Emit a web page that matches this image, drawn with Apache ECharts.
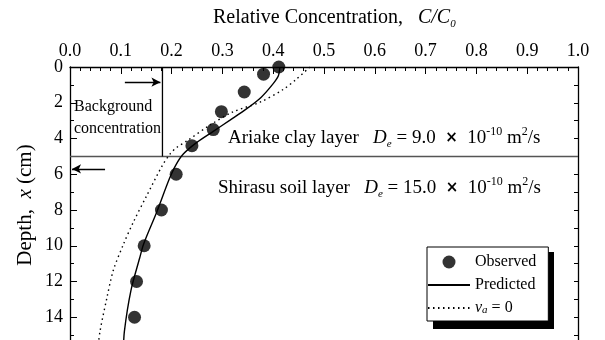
<!DOCTYPE html>
<html>
<head>
<meta charset="utf-8">
<script src="https://cdn.jsdelivr.net/npm/echarts@6/dist/echarts.min.js"></script>
<style>
  html, body { margin: 0; padding: 0; background: #fff; overflow: hidden; }
  /* taller than the window: the plot runs off the bottom edge like the original figure */
  #root { width: 605px; height: 362px; }
</style>
</head>
<body>
<div id="root"></div>
<script>
// observed C/C0 against depth (cm)
const observed = [
  [0.411, 0], [0.381, 0.4], [0.343, 1.4], [0.298, 2.5], [0.282, 3.5], [0.240, 4.4],
  [0.209, 6], [0.180, 8], [0.146, 10], [0.131, 12], [0.127, 14]
];
// predicted curve
const predicted = [
  [0.413, 0], [0.410, 0.5], [0.398, 1.0], [0.376, 1.7], [0.348, 2.33], [0.315, 2.97],
  [0.282, 3.6], [0.249, 4.23], [0.223, 4.87], [0.208, 5.5], [0.195, 6.3], [0.171, 8.1],
  [0.145, 9.9], [0.137, 10.7], [0.120, 12.5], [0.107, 14.8], [0.105, 16]
];
// va = 0 curve
const noAdvection = [
  [0.472, 0], [0.445, 0.7], [0.420, 1.25], [0.374, 1.97], [0.321, 2.51], [0.276, 3.24],
  [0.230, 4.14], [0.210, 4.5], [0.197, 4.87], [0.182, 5.5], [0.151, 7.2], [0.125, 8.66],
  [0.105, 9.93], [0.085, 11.4], [0.072, 13.0], [0.059, 14.8], [0.054, 16]
];
const bgConc = 0.182;      // background concentration
const layerDepth = 5;      // clay / soil boundary
const arrowTop = [[0.108, 0.85], [0.178, 0.85]];
const arrowLow = [[0.069, 5.7], [0.004, 5.7]];

const serif = 'Liberation Serif';
const root = document.getElementById('root');
const myChart = echarts.init(root);

const rich = {
  n: { fontFamily: serif, fontSize: 19, color: '#000', lineHeight: 24, verticalAlign: 'middle' },
  i: { fontFamily: serif, fontSize: 19, fontStyle: 'italic', color: '#000', lineHeight: 24, verticalAlign: 'middle' },
  sub: { fontFamily: serif, fontSize: 11, fontStyle: 'italic', color: '#000', lineHeight: 14, verticalAlign: 'bottom' },
  sup: { fontFamily: serif, fontSize: 12, color: '#000', lineHeight: 14, verticalAlign: 'top' },
  x: { fontFamily: 'DejaVu Sans', fontSize: 15, fontWeight: 'bold', color: '#000', lineHeight: 24, verticalAlign: 'middle' },
  t: { fontFamily: serif, fontSize: 20, color: '#000', lineHeight: 24, verticalAlign: 'middle' },
  ti: { fontFamily: serif, fontSize: 20, fontStyle: 'italic', color: '#000', lineHeight: 24, verticalAlign: 'middle' },
  yn: { fontFamily: serif, fontSize: 21, color: '#000', lineHeight: 24, verticalAlign: 'middle' },
  yi: { fontFamily: serif, fontSize: 21, fontStyle: 'italic', color: '#000', lineHeight: 24, verticalAlign: 'middle' }
};

const option = {
  animation: false,
  backgroundColor: '#fff',
  grid: { left: 70, top: 67, width: 508, height: 295 },
  xAxis: {
    type: 'value', position: 'top', min: 0, max: 1, interval: 0.1,
    axisLine: { show: true, lineStyle: { color: '#000', width: 1.3 } },
    axisTick: { inside: true, length: 7, lineStyle: { color: '#000' } },
    minorTick: { show: true, splitNumber: 5, length: 4, lineStyle: { color: '#000' } },
    splitLine: { show: false },
    axisLabel: { formatter: v => v.toFixed(1), fontFamily: serif, fontSize: 18, color: '#000', margin: 7 }
  },
  yAxis: [{
    type: 'value', inverse: true, min: 0, max: 16, interval: 2,
    axisLine: { show: true, lineStyle: { color: '#000', width: 1.3 } },
    axisTick: { inside: true, length: 7, lineStyle: { color: '#000' } },
    minorTick: { show: true, splitNumber: 2, length: 4, lineStyle: { color: '#000' } },
    splitLine: { show: false },
    axisLabel: { fontFamily: serif, fontSize: 18, color: '#000', margin: 7 }
  }, {
    type: 'value', inverse: true, min: 0, max: 16, interval: 1, position: 'right',
    axisLine: { show: true, lineStyle: { color: '#000', width: 1.3 } },
    axisTick: { inside: true, length: 4, lineStyle: { color: '#000' } },
    axisLabel: { show: false },
    splitLine: { show: false }
  }],
  legend: {
    data: [
      { name: 'Observed' },
      { name: 'Predicted', itemStyle: { opacity: 0 } },
      { name: 'va', itemStyle: { opacity: 0 } }
    ],
    orient: 'vertical', left: 427, top: 247,
    padding: [7, 12, 5, 0], itemWidth: 42, itemHeight: 13, itemGap: 7,
    backgroundColor: '#fff', borderColor: '#000', borderWidth: 1,
    formatter: name => name === 'va' ? '{i|v}{s|a}{n| = 0}' : name,
    textStyle: {
      fontFamily: serif, fontSize: 16, color: '#000',
      rich: {
        n: { fontFamily: serif, fontSize: 16, color: '#000', lineHeight: 16, verticalAlign: 'middle' },
        i: { fontFamily: serif, fontSize: 16, fontStyle: 'italic', color: '#000', lineHeight: 16, verticalAlign: 'middle' },
        s: { fontFamily: serif, fontSize: 11, fontStyle: 'italic', color: '#000', lineHeight: 10, verticalAlign: 'bottom' }
      }
    }
  },
  graphic: [
    {
      // drop shadow behind the legend box
      type: 'rect', z: 3, shape: { x: 433, y: 252, width: 121, height: 77 },
      style: { fill: '#000' }, silent: true
    },
    {
      type: 'text', left: 213, top: 8,
      style: { text: '{t|Relative Concentration,   }{ti|C/C}{sub|0}', rich: rich }
    },
    {
      type: 'text', x: 25, y: 205, rotation: Math.PI / 2,
      style: { text: '{yn|Depth,  }{yi|x}{yn| (cm)}', rich: rich, align: 'center', verticalAlign: 'middle' }
    },
    {
      type: 'text', left: 74, top: 96,
      style: { text: 'Background\nconcentration', fontFamily: serif, fontSize: 16, lineHeight: 22, fill: '#000' }
    },
    {
      type: 'text', left: 228, top: 126,
      style: { text: '{n|Ariake clay layer   }{i|D}{sub|e}{n| = 9.0  }{x|×}{n|  10}{sup|-10}{n| m}{sup|2}{n|/s}', rich: rich }
    },
    {
      type: 'text', left: 218, top: 176,
      style: { text: '{n|Shirasu soil layer   }{i|D}{sub|e}{n| = 15.0  }{x|×}{n|  10}{sup|-10}{n| m}{sup|2}{n|/s}', rich: rich }
    }
  ],
  series: [
    {
      name: 'Boundary', type: 'line', data: [[0, layerDepth], [1, layerDepth]],
      symbol: 'none', silent: true, lineStyle: { color: '#555', width: 1.5 }, z: 1
    },
    {
      name: 'Background', type: 'line', data: [[bgConc, 0], [bgConc, layerDepth]],
      symbol: 'none', silent: true, lineStyle: { color: '#000', width: 1.3 },
      markLine: {
        silent: true, symbol: ['none', 'arrow'], symbolSize: [7, 9],
        lineStyle: { color: '#000', width: 1.3, type: 'solid' }, label: { show: false },
        data: [
          [{ coord: arrowTop[0] }, { coord: arrowTop[1] }],
          [{ coord: arrowLow[0] }, { coord: arrowLow[1] }]
        ]
      }
    },
    {
      name: 'va', type: 'line', data: noAdvection, smooth: 0.3, symbol: 'none',
      lineStyle: { color: '#000', width: 1.4, type: [1.5, 3.5] }, itemStyle: { color: '#000' }
    },
    {
      name: 'Predicted', type: 'line', data: predicted, smooth: 0.3, symbol: 'none',
      lineStyle: { color: '#000', width: 1.4 }, itemStyle: { color: '#000' }
    },
    {
      name: 'Observed', type: 'scatter', data: observed, symbol: 'circle', symbolSize: 13,
      itemStyle: { color: '#000' }, z: 5
    }
  ]
};
myChart.setOption(option);
</script>
</body>
</html>
